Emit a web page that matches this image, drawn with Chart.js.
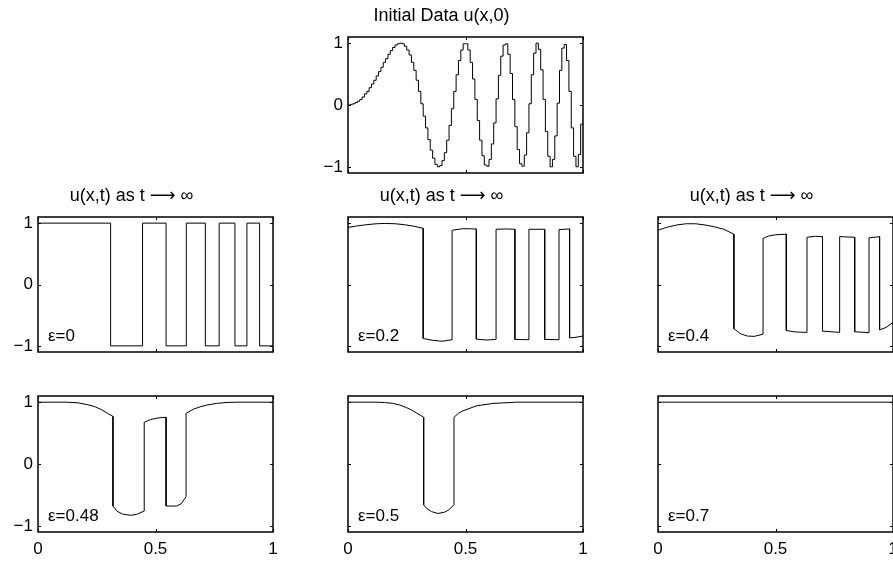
<!DOCTYPE html>
<html>
<head>
<meta charset="utf-8">
<script src="https://cdn.jsdelivr.net/npm/chart.js@4.4.0/dist/chart.umd.min.js"></script>
<style>
body { margin: 0; background: #fff; width: 893px; height: 562px; overflow: hidden; position: relative; }
canvas { position: absolute; }
</style>
</head>
<body>
<canvas id="c0"></canvas>
<canvas id="c1"></canvas>
<canvas id="c2"></canvas>
<canvas id="c3"></canvas>
<canvas id="c4"></canvas>
<canvas id="c5"></canvas>
<canvas id="c6"></canvas>
<script>
var xTicks = [0, 0.5, 1];
var yTicks = [-1, 0, 1];

// initial data, one value per grid cell (100 cells on [0,1])
var u0 = [
    0.00, 0.01, 0.02, 0.04, 0.06, 0.09, 0.13, 0.18, 0.22, 0.28,
    0.34, 0.40, 0.47, 0.54, 0.61, 0.69, 0.75, 0.82, 0.88, 0.93,
    0.97, 0.99, 1.00, 0.99, 0.95, 0.89, 0.81, 0.69, 0.56, 0.40,
    0.22, 0.02, -0.18, -0.37, -0.56, -0.73, -0.86, -0.96, -1.00, -0.98,
    -0.90, -0.77, -0.57, -0.33, -0.06, 0.22, 0.49, 0.72, 0.89, 0.99,
    0.99, 0.89, 0.69, 0.42, 0.09, -0.25, -0.57, -0.82, -0.97, -0.99,
    -0.88, -0.63, -0.29, 0.10, 0.48, 0.79, 0.97, 0.99, 0.82, 0.51,
    0.09, -0.35, -0.72, -0.95, -0.99, -0.81, -0.45, 0.02, 0.49, 0.84,
    1.00, 0.90, 0.57, 0.09, -0.43, -0.83, -1.00, -0.88, -0.50, 0.03,
    0.56, 0.92, 0.98, 0.72, 0.22, -0.37, -0.83, -1.00, -0.80, -0.31
];

// eps = 0 : square wave
var eps0Edges = [0, 0.309, 0.445, 0.545, 0.631, 0.712, 0.771, 0.838, 0.889, 0.943, 1];
var eps0Levels = [1, -1, 1, -1, 1, -1, 1, -1, 1, -1, -1];

var eps02X = [0, 0.04, 0.08, 0.12, 0.16, 0.2, 0.24, 0.28, 0.32,
    0.32, 0.36, 0.40, 0.443,
    0.443, 0.49, 0.546,
    0.546, 0.59, 0.63,
    0.63, 0.67, 0.71,
    0.71, 0.77,
    0.77, 0.837,
    0.837, 0.898,
    0.898, 0.943,
    0.943, 0.97, 1];
var eps02Y = [0.93, 0.955, 0.975, 0.99, 0.995, 0.99, 0.975, 0.95, 0.915,
    -0.88, -0.91, -0.925, -0.9,
    0.885, 0.91, 0.905,
    -0.89, -0.905, -0.895,
    0.9, 0.905, 0.9,
    -0.895, -0.9,
    0.9, 0.9,
    -0.895, -0.9,
    0.895, 0.905,
    -0.87, -0.86, -0.84];

var eps04X = [0, 0.04, 0.08, 0.12, 0.16, 0.2, 0.24, 0.28, 0.323,
    0.323, 0.35, 0.38, 0.41, 0.447,
    0.447, 0.47, 0.5, 0.546,
    0.546, 0.59, 0.634,
    0.634, 0.67, 0.70,
    0.70, 0.773,
    0.773, 0.837,
    0.837, 0.898,
    0.898, 0.943,
    0.943, 0.97, 1];
var eps04Y = [0.885, 0.935, 0.97, 0.99, 0.99, 0.97, 0.94, 0.9, 0.82,
    -0.72, -0.8, -0.84, -0.845, -0.81,
    0.75, 0.79, 0.81, 0.82,
    -0.75, -0.775, -0.78,
    0.77, 0.785, 0.78,
    -0.76, -0.78,
    0.78, 0.77,
    -0.77, -0.785,
    0.76, 0.78,
    -0.74, -0.7, -0.62];

var eps048X = [0, 0.12, 0.17, 0.21, 0.24, 0.27, 0.30, 0.319,
    0.319, 0.335, 0.36, 0.393, 0.42, 0.452,
    0.452, 0.48, 0.51, 0.545,
    0.545, 0.59, 0.61, 0.63,
    0.63, 0.66, 0.69, 0.72, 0.76, 0.80, 0.85, 1];
var eps048Y = [1, 1, 0.99, 0.96, 0.93, 0.88, 0.81, 0.77,
    -0.68, -0.76, -0.81, -0.83, -0.815, -0.76,
    0.675, 0.72, 0.745, 0.755,
    -0.68, -0.68, -0.64, -0.53,
    0.82, 0.885, 0.925, 0.955, 0.98, 0.995, 1, 1];

var eps05X = [0, 0.12, 0.155, 0.19, 0.22, 0.25, 0.27, 0.29, 0.322,
    0.322, 0.335, 0.355, 0.383, 0.41, 0.43, 0.451,
    0.451, 0.47, 0.489, 0.546, 0.617, 0.716, 1];
var eps05Y = [1, 1, 0.995, 0.98, 0.955, 0.91, 0.875, 0.83, 0.756,
    -0.66, -0.72, -0.77, -0.80, -0.78, -0.74, -0.66,
    0.756, 0.82, 0.86, 0.94, 0.98, 1, 1];

var eps07X = [0, 1];
var eps07Y = [1, 1];

var titleTop = 'Initial Data u(x,0)';
var titleRow = 'u(x,t) as t \u27f6 \u221e';

Chart.defaults.font.family = '"Liberation Sans", Arial, Helvetica, "DejaVu Sans", sans-serif';
Chart.defaults.font.size = 17;
Chart.defaults.color = '#000';

function pairs(xs, ys) {
    return xs.map(function(x, i) { return {x: x, y: ys[i]}; });
}

function fmt(v) {
    return v < 0 ? '\u2212' + (-v) : String(v);
}

// box, inward ticks on all four sides, epsilon label
var frame = {
    id: 'frame',
    afterDatasetsDraw: function(chart, args, opts) {
        var a = chart.chartArea, ctx = chart.ctx;
        var sx = chart.scales.x, sy = chart.scales.y;
        ctx.save();
        ctx.strokeStyle = '#000';
        ctx.lineWidth = 1;
        ctx.beginPath();
        xTicks.forEach(function(v) {
            var p = Math.round(sx.getPixelForValue(v)) + 0.5;
            ctx.moveTo(p, a.bottom); ctx.lineTo(p, a.bottom - 3);
            ctx.moveTo(p, a.top); ctx.lineTo(p, a.top + 3);
        });
        yTicks.forEach(function(v) {
            var p = Math.round(sy.getPixelForValue(v)) + 0.5;
            ctx.moveTo(a.left, p); ctx.lineTo(a.left + 3, p);
            ctx.moveTo(a.right, p); ctx.lineTo(a.right - 3, p);
        });
        ctx.stroke();
        ctx.lineWidth = 1.5;
        ctx.strokeRect(a.left, a.top, a.right - a.left, a.bottom - a.top);
        if (opts.label) {
            ctx.fillStyle = '#000';
            ctx.font = '17px "Liberation Sans", Arial, sans-serif';
            ctx.textBaseline = 'alphabetic';
            ctx.fillText(opts.label, a.left + 10, a.bottom - 11);
        }
        ctx.restore();
    }
};

function makeChart(id, box, data, o) {
    var side = 48;
    var topM = o.title ? 36 : 20;
    var botM = o.xLabels ? 30 : 20;
    var cv = document.getElementById(id);
    cv.width = box.w + 2 * side;
    cv.height = box.h + topM + botM;
    cv.style.left = (box.left - side) + 'px';
    cv.style.top = (box.top - topM) + 'px';
    cv.style.width = cv.width + 'px';
    cv.style.height = cv.height + 'px';

    return new Chart(cv, {
        type: 'line',
        data: {
            datasets: [{
                data: data,
                borderColor: '#000',
                borderWidth: 1,
                pointRadius: 0,
                tension: 0,
                stepped: o.stepped || false,
                fill: false
            }]
        },
        options: {
            responsive: false,
            animation: false,
            devicePixelRatio: 1,
            layout: {padding: {left: 0, right: side, top: o.title ? 0 : topM, bottom: 0}},
            scales: {
                x: {
                    type: 'linear', min: 0, max: 1,
                    afterBuildTicks: function(s) { s.ticks = xTicks.map(function(v) { return {value: v}; }); },
                    afterFit: function(s) { s.height = botM; },
                    grid: {display: false, drawTicks: false},
                    border: {display: false},
                    ticks: {display: !!o.xLabels, padding: 7, maxRotation: 0, autoSkip: false,
                        callback: function(v) { return fmt(v); }}
                },
                y: {
                    type: 'linear', min: -1.1, max: 1.1,
                    afterBuildTicks: function(s) { s.ticks = yTicks.map(function(v) { return {value: v}; }); },
                    afterFit: function(s) { s.width = side; },
                    grid: {display: false, drawTicks: false},
                    border: {display: false},
                    ticks: {display: !!o.yLabels, padding: 5, autoSkip: false,
                        callback: function(v) { return fmt(v); }}
                }
            },
            plugins: {
                legend: {display: false},
                tooltip: {enabled: false},
                title: {
                    display: !!o.title,
                    text: o.title || '',
                    font: {size: 18, weight: 'normal', lineHeight: '22px'},
                    padding: {top: 4, bottom: 10},
                    color: '#000'
                },
                frame: {label: o.label || ''}
            }
        },
        plugins: [frame]
    });
}

// initial data as cell steps
var u0Pts = u0.map(function(v, i) { return {x: i / u0.length, y: v}; });
u0Pts.push({x: 1, y: u0[u0.length - 1]});

var cols = [38, 348, 658];

makeChart('c0', {left: 348, top: 37, w: 235, h: 136}, u0Pts,
    {title: titleTop, yLabels: true, stepped: true});
makeChart('c1', {left: cols[0], top: 217, w: 235, h: 135}, pairs(eps0Edges, eps0Levels),
    {title: titleRow, yLabels: true, stepped: true, label: '\u03b5=0'});
makeChart('c2', {left: cols[1], top: 217, w: 235, h: 135}, pairs(eps02X, eps02Y),
    {title: titleRow, label: '\u03b5=0.2'});
makeChart('c3', {left: cols[2], top: 217, w: 235, h: 135}, pairs(eps04X, eps04Y),
    {title: titleRow, label: '\u03b5=0.4'});
makeChart('c4', {left: cols[0], top: 396, w: 235, h: 136}, pairs(eps048X, eps048Y),
    {yLabels: true, xLabels: true, label: '\u03b5=0.48'});
makeChart('c5', {left: cols[1], top: 396, w: 235, h: 136}, pairs(eps05X, eps05Y),
    {xLabels: true, label: '\u03b5=0.5'});
makeChart('c6', {left: cols[2], top: 396, w: 235, h: 136}, pairs(eps07X, eps07Y),
    {xLabels: true, label: '\u03b5=0.7'});
</script>
</body>
</html>
